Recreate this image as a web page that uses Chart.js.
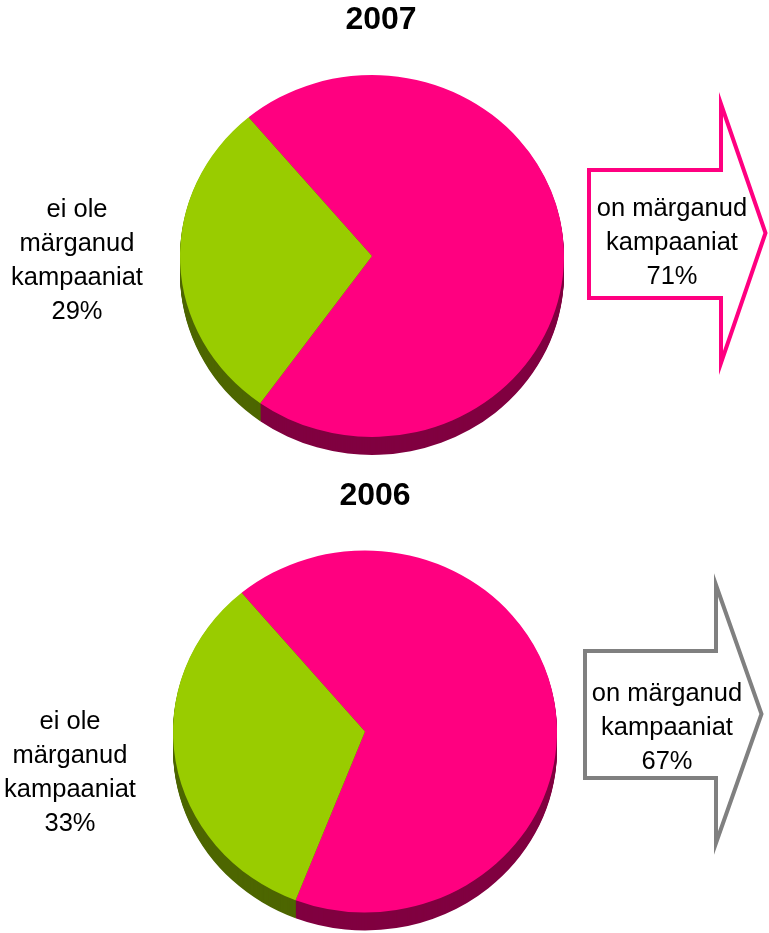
<!DOCTYPE html>
<html>
<head>
<meta charset="utf-8">
<title>2007 / 2006</title>
<script src="https://cdn.jsdelivr.net/npm/chart.js@4/dist/chart.umd.min.js"></script>
<style>
  html, body { margin: 0; padding: 0; background: #fff; overflow: hidden; }
  canvas { position: absolute; left: 0; }
</style>
</head>
<body>
<canvas id="chart2007" width="769" height="475" style="top:0"></canvas>
<canvas id="chart2006" width="769" height="458" style="top:475px"></canvas>
<script>
const categories = ['on märganud kampaaniat', 'ei ole märganud kampaaniat'];
const values2007 = [71, 29];
const values2006 = [67, 33];
const sliceColors = ['#FF0080', '#99CC00'];
const wallColors = ['#800040', '#4D6600'];
const FONT = '"Liberation Sans", Arial, sans-serif';

// pie is squashed a little and gets a dark wall underneath
const squash = 181 / 192;
const wallDepth = 18;

const tiltPlugin = {
  id: 'tilt',
  beforeDatasetsDraw(chart) {
    const ctx = chart.ctx;
    const arcs = chart.getDatasetMeta(0).data;
    const cy = arcs[0].y;
    for (let d = wallDepth; d > 0; d--) {
      arcs.forEach((arc, i) => {
        ctx.save();
        ctx.translate(arc.x, cy + d);
        ctx.scale(1, squash);
        ctx.beginPath();
        ctx.moveTo(0, 0);
        ctx.arc(0, 0, arc.outerRadius, arc.startAngle, arc.endAngle);
        ctx.closePath();
        ctx.fillStyle = wallColors[i];
        ctx.fill();
        ctx.restore();
      });
    }
    ctx.save();
    ctx.translate(0, cy);
    ctx.scale(1, squash);
    ctx.translate(0, -cy);
  },
  afterDatasetsDraw(chart) {
    chart.ctx.restore();
  }
};

const notesPlugin = {
  id: 'notes',
  afterDraw(chart, args, opts) {
    const ctx = chart.ctx;
    const a = opts.arrow;
    ctx.save();
    ctx.beginPath();
    ctx.moveTo(a.left, a.top);
    ctx.lineTo(a.neck, a.top);
    ctx.lineTo(a.neck, a.headTop);
    ctx.lineTo(a.tip, a.mid);
    ctx.lineTo(a.neck, a.headBottom);
    ctx.lineTo(a.neck, a.bottom);
    ctx.lineTo(a.left, a.bottom);
    ctx.closePath();
    ctx.fillStyle = '#fff';
    ctx.fill();
    ctx.strokeStyle = a.color;
    ctx.lineWidth = 4;
    ctx.lineJoin = 'miter';
    ctx.miterLimit = 12;
    ctx.stroke();

    ctx.textAlign = 'center';
    ctx.textBaseline = 'middle';
    ctx.fillStyle = '#000';
    ctx.font = 'bold 32px ' + FONT;
    ctx.fillText(opts.title, opts.titleX, opts.titleY);
    ctx.font = '25.5px ' + FONT;
    opts.left.lines.forEach((t, i) => ctx.fillText(t, opts.left.x, opts.left.y + i * 34));
    opts.right.lines.forEach((t, i) => ctx.fillText(t, opts.right.x, opts.right.y + i * 34));
    ctx.restore();
  }
};

function drawPie(id, values, padding, notes) {
  new Chart(document.getElementById(id), {
    type: 'pie',
    data: {
      labels: categories,
      datasets: [{
        data: values,
        backgroundColor: sliceColors,
        borderWidth: 0,
        hoverOffset: 0
      }]
    },
    options: {
      responsive: false,
      animation: false,
      events: [],
      rotation: -40,
      layout: { padding },
      plugins: {
        legend: { display: false },
        tooltip: { enabled: false },
        notes
      }
    },
    plugins: [tiltPlugin, notesPlugin]
  });
}

drawPie('chart2007', values2007, { left: 180, right: 205, top: 64, bottom: 27 }, {
  title: '2007', titleX: 381, titleY: 20,
  left: { x: 77, y: 210, lines: ['ei ole', 'märganud', 'kampaaniat', values2007[1] + '%'] },
  right: { x: 672, y: 209, lines: ['on märganud', 'kampaaniat', values2007[0] + '%'] },
  arrow: { left: 589, neck: 721, tip: 765.5, top: 170, bottom: 298, headTop: 104, headBottom: 363, mid: 233, color: '#FF0080' }
});

drawPie('chart2006', values2006, { left: 173, right: 212, top: 64.5, bottom: 9.5 }, {
  title: '2006', titleX: 375, titleY: 21,
  left: { x: 70, y: 247, lines: ['ei ole', 'märganud', 'kampaaniat', values2006[1] + '%'] },
  right: { x: 667, y: 219, lines: ['on märganud', 'kampaaniat', values2006[0] + '%'] },
  arrow: { left: 585, neck: 716, tip: 761.5, top: 176, bottom: 303, headTop: 110, headBottom: 368, mid: 239, color: '#808080' }
});
</script>
</body>
</html>
